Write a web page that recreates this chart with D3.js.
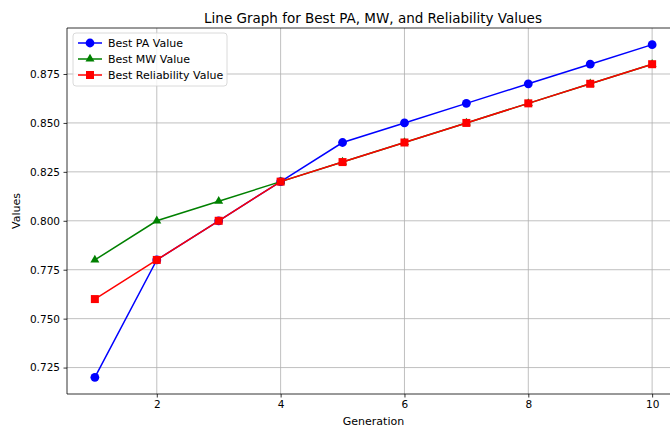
<!DOCTYPE html>
<html><head><meta charset="utf-8">
<script src="https://cdn.jsdelivr.net/npm/d3@7"></script>
<style>body{margin:0;background:#fff}svg{display:block;font-family:"DejaVu Sans",sans-serif}</style>
</head><body>
<svg id="c" width="670" height="428"></svg>
<script>
const generations = [1,2,3,4,5,6,7,8,9,10];
const paValues = [0.72,0.78,0.80,0.82,0.84,0.85,0.86,0.87,0.88,0.89];
const mwValues = [0.78,0.80,0.81,0.82,0.83,0.84,0.85,0.86,0.87,0.88];
const relValues = [0.76,0.78,0.80,0.82,0.83,0.84,0.85,0.86,0.87,0.88];
const xTicks = [2,4,6,8,10];
const yTicks = [0.725,0.750,0.775,0.800,0.825,0.850,0.875];
const seriesNames = ["Best PA Value","Best MW Value","Best Reliability Value"];
const seriesColors = ["#0000ff","#008000","#ff0000"];
const seriesMarkers = ["circle","triangle","square"];
const title = "Line Graph for Best PA, MW, and Reliability Values";

const svg = d3.select("#c");
const L=67, R=680, T=28, B=394;
const x = d3.scaleLinear().domain([0.55,10.45]).range([L,R]);
const y = d3.scaleLinear().domain([0.7115,0.8985]).range([B,T]);

// grid
const g = svg.append("g");
g.selectAll(".gx").data(xTicks).join("line").attr("x1",d=>x(d)).attr("x2",d=>x(d))
  .attr("y1",T).attr("y2",B).attr("stroke","#b0b0b0").attr("stroke-width",0.8);
g.selectAll(".gy").data(yTicks).join("line").attr("y1",d=>y(d)).attr("y2",d=>y(d))
  .attr("x1",L).attr("x2",R).attr("stroke","#b0b0b0").attr("stroke-width",0.8);

// axes
const xa = svg.append("g").attr("transform",`translate(0,${B})`)
  .call(d3.axisBottom(x).tickValues(xTicks).tickFormat(d3.format("d")).tickSize(3.5).tickPadding(3.5));
const ya = svg.append("g").attr("transform",`translate(${L},0)`)
  .call(d3.axisLeft(y).tickValues(yTicks).tickFormat(d3.format(".3f")).tickSize(3.5).tickPadding(3.5));
[xa,ya].forEach(a=>{a.select(".domain").remove();a.selectAll("text").attr("font-size",10.5).attr("fill","#000").attr("font-family","DejaVu Sans");a.selectAll("line").attr("stroke","#000").attr("stroke-width",0.8);});

// spines
svg.append("line").attr("x1",L).attr("x2",L).attr("y1",T).attr("y2",B).attr("stroke","#000").attr("stroke-width",0.8);
svg.append("line").attr("x1",L).attr("x2",R).attr("y1",B).attr("y2",B).attr("stroke","#000").attr("stroke-width",0.8);
svg.append("line").attr("x1",L).attr("x2",R).attr("y1",T).attr("y2",T).attr("stroke","#000").attr("stroke-width",0.8);
svg.append("line").attr("x1",R).attr("x2",R).attr("y1",T).attr("y2",B).attr("stroke","#000").attr("stroke-width",0.8);

const allSeries = [paValues, mwValues, relValues];
function marker(sel, type, color, size){
  if(type==="circle") sel.append("circle").attr("r",size*0.55).attr("fill",color);
  else if(type==="triangle") sel.append("path").attr("d",d3.symbol(d3.symbolTriangle, size*size*0.55)()).attr("fill",color);
  else sel.append("rect").attr("x",-size*0.5).attr("y",-size*0.5).attr("width",size).attr("height",size).attr("fill",color);
}
const line = d3.line().x((d,i)=>x(generations[i])).y(d=>y(d));
allSeries.forEach((vals,k)=>{
  const sg = svg.append("g");
  sg.append("path").attr("d",line(vals)).attr("fill","none").attr("stroke",seriesColors[k]).attr("stroke-width",1.5);
  vals.forEach((v,i)=>{
    const m = sg.append("g").attr("transform",`translate(${x(generations[i])},${y(v)})`);
    marker(m, seriesMarkers[k], seriesColors[k], 8);
  });
});

// title and labels
svg.append("text").attr("x",(L+R)/2 - 0.5).attr("y",23).attr("text-anchor","middle").attr("font-size",13.5).text(title);
svg.append("text").attr("x",(L+R)/2).attr("y",425).attr("text-anchor","middle").attr("font-size",11).text("Generation");
svg.append("text").attr("transform",`translate(20,${(T+B)/2}) rotate(-90)`).attr("text-anchor","middle").attr("font-size",11).text("Values");

// legend
const lg = svg.append("g").attr("transform",`translate(73,33)`);
lg.append("rect").attr("width",154).attr("height",53).attr("rx",3).attr("fill","#fff").attr("fill-opacity",0.8).attr("stroke","#d0d0d0").attr("stroke-width",0.8);
seriesNames.forEach((n,k)=>{
  const yy = 10+k*16;
  lg.append("line").attr("x1",5).attr("x2",29).attr("y1",yy).attr("y2",yy).attr("stroke",seriesColors[k]).attr("stroke-width",1.5);
  const m = lg.append("g").attr("transform",`translate(17,${yy})`);
  marker(m, seriesMarkers[k], seriesColors[k], 8);
  lg.append("text").attr("x",35).attr("y",yy+4).attr("font-size",11).text(n);
});
</script>
</body></html>
